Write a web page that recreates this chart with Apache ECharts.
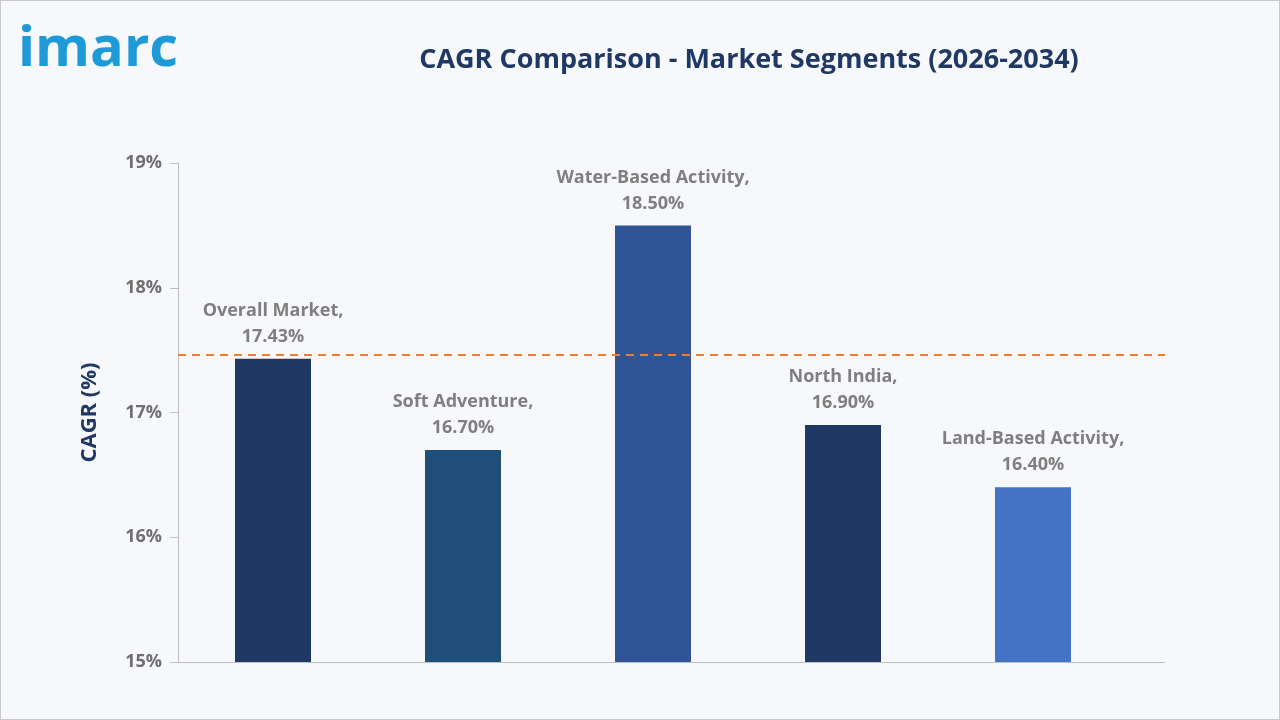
<!DOCTYPE html>
<html><head><meta charset="utf-8">
<script src="https://cdn.jsdelivr.net/npm/echarts@6/dist/echarts.min.js"></script>
<style>html,body{margin:0;padding:0;background:#fff}#c{width:1280px;height:720px}</style>
</head><body><div id="c"></div>
<script>
const categories = ["Overall Market","Soft Adventure","Water-Based Activity","North India","Land-Based Activity"];
const values = [17.43,16.70,18.50,16.90,16.40];
const colors = ["#1f3864","#1f4e79","#2f5597","#203864","#4472c4"];
const refLine = 17.46;
const chart = echarts.init(document.getElementById('c'));
chart.setOption({
  backgroundColor:'#f6f8fb',
  graphic:[
    {type:'rect',shape:{x:0.5,y:0.5,width:1279,height:719},style:{fill:'none',stroke:'#c8c8c8',lineWidth:1}},
    {type:'text',left:18,top:22,style:{text:'imarc',fill:'#1e9ad6',font:'bold 56px "Open Sans", sans-serif'}},
    {type:'line',shape:{x1:1120,y1:662.5,x2:1165,y2:662.5},style:{stroke:'#bfbfbf',lineWidth:1}}
  ],
  title:{text:'CAGR Comparison - Market Segments (2026-2034)',left:744,top:42,textAlign:'center',
    textStyle:{color:'#1f3864',fontSize:27,fontWeight:'bold',fontFamily:'"Open Sans", sans-serif'}},
  grid:{left:178,right:152,top:163,bottom:58},
  xAxis:{type:'category',data:categories,axisTick:{show:false},axisLabel:{show:false},
    axisLine:{lineStyle:{color:'#bfbfbf'}}},
  yAxis:{type:'value',min:15,max:19,interval:1,name:'CAGR (%)',nameLocation:'middle',nameGap:77,
    nameTextStyle:{color:'#1f3864',fontSize:22,fontWeight:'bold',fontFamily:'"Open Sans", sans-serif'},
    axisLine:{show:true,lineStyle:{color:'#bfbfbf'}},axisTick:{show:true,length:8,lineStyle:{color:'#bfbfbf'}},
    splitLine:{show:false},
    axisLabel:{formatter:'{value}%',color:'#6f6f6f',fontSize:18,fontWeight:'bold',margin:16,fontFamily:'"Open Sans", sans-serif'}},
  series:[{type:'bar',barWidth:76,
    data:values.map((v,i)=>({value:v,itemStyle:{color:colors[i]}})),
    label:{show:true,position:'top',distance:9,color:'#7f7f7f',fontSize:18,fontWeight:'bold',lineHeight:26,
      fontFamily:'"Open Sans", sans-serif',
      formatter:p=>p.name+',\n'+p.value.toFixed(2)+'%'}
  },{type:'line',data:[],clip:false,silent:true,
    markLine:{symbol:'none',silent:true,label:{show:false},
      lineStyle:{color:'#ed7d31',type:[8,6],width:2},
      data:[[{x:178,yAxis:refLine},{x:1165,yAxis:refLine}]]}
  }]
});
</script></body></html>
